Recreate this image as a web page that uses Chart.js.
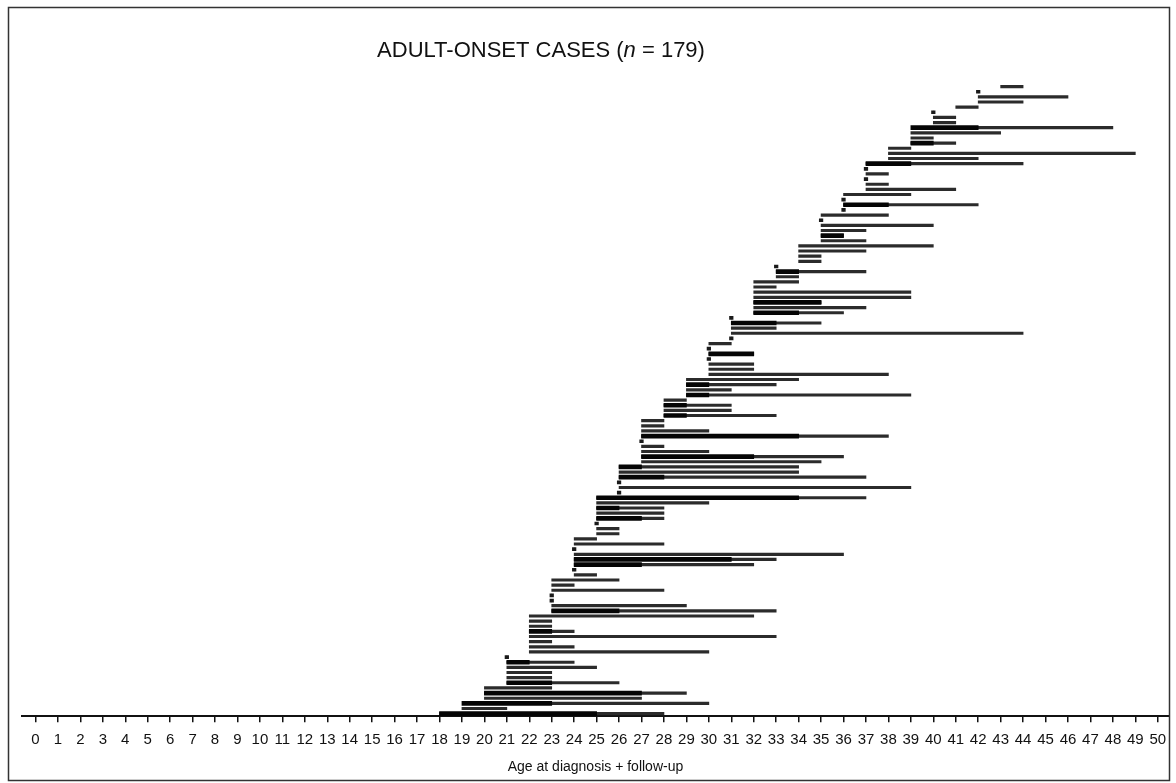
<!DOCTYPE html>
<html>
<head>
<meta charset="utf-8">
<title>Adult-onset cases</title>
<script src="https://cdn.jsdelivr.net/npm/chart.js@4.4.1/dist/chart.umd.min.js"></script>
<style>
  html, body { margin: 0; padding: 0; background: #fff; }
  #wrap { width: 1176px; height: 783px; }
</style>
</head>
<body>
<div id="wrap"><canvas id="followUpChart" width="1176" height="783"></canvas></div>
<script>
// one line per row, bottom row first: age at diagnosis and age at last follow-up
var onsetAge = [
  18,19,20,20,20,20,21,21,21,21,
  21,21,22,22,22,22,22,22,22,22,
  23,23,23,23,23,23,23,24,24,24,
  24,24,24,24,24,25,25,25,25,25,
  25,25,25,26,26,26,26,26,26,27,
  27,27,27,27,27,27,27,27,28,28,
  28,28,29,29,29,29,30,30,30,30,
  30,30,30,31,31,31,31,31,32,32,
  32,32,32,32,32,33,33,33,34,34,
  34,34,35,35,35,35,35,35,36,36,
  36,36,37,37,37,37,37,37,38,38,
  38,39,39,39,40,40,40,40,41,42,
  42,42,43
];
var lastAge = [
  28,21,30,27,29,23,26,23,23,25,
  24,21,30,24,23,33,24,23,23,32,
  33,29,23,23,28,24,26,25,24,32,
  33,36,24,28,25,26,26,25,28,28,
  28,30,37,26,39,26,37,34,34,35,
  36,30,28,27,38,30,28,28,33,31,
  31,29,39,31,33,34,38,32,32,30,
  32,30,31,31,44,33,35,31,36,37,
  35,39,39,33,34,34,37,33,35,35,
  37,40,37,36,37,40,35,38,36,42,
  36,39,41,38,37,38,37,44,42,49,
  39,41,40,43,48,41,41,40,42,44,
  46,42,44
];

// rows where a second case overlaps (heavy black segment)
var pairRow   = [1,3,5,7,11,17,21,30,31,39, 41,43,47,49,51,55,59,61,63,65, 71,77,79,81,87,94,100,108,112,115];
var pairStart = [18,19,20,21,21,22,23,24,24,25, 25,25,26,26,27,27,28,28,29,29, 30,31,32,32,33,35,36,37,39,39];
var pairEnd   = [25,23,27,23,22,23,26,27,31,27, 26,34,28,27,32,34,29,29,30,30, 32,33,34,35,34,36,38,39,40,42];

var tickAges = [0,1,2,3,4,5,6,7,8,9,10,11,12,13,14,15,16,17,18,19,20,21,22,23,24,25,
  26,27,28,29,30,31,32,33,34,35,36,37,38,39,40,41,42,43,44,45,46,47,48,49,50];

// build the floating bars
var rowLabels = onsetAge.map(function (a, i) { return String(i + 1); });
var followBars = onsetAge.map(function (a, i) { return [a, lastAge[i]]; });
var pairBars = onsetAge.map(function () { return null; });
for (var k = 0; k < pairRow.length; k++) {
  pairBars[pairRow[k] - 1] = [pairStart[k], pairEnd[k]];
}
// cases with no follow-up only show a dot
var dotBars = onsetAge.map(function (a, i) {
  return a === lastAge[i] ? [a - 0.08, a + 0.08] : null;
});

var frameAndTitle = {
  id: 'frameAndTitle',
  afterDraw: function (chart) {
    var c = chart.ctx;
    c.save();
    c.strokeStyle = '#333';
    c.lineWidth = 1.5;
    c.strokeRect(8.5, 7.5, 1161, 773);

    var parts = [
      ['ADULT-ONSET CASES (', 'normal'],
      ['n', 'italic'],
      [' = 179)', 'normal']
    ];
    var size = 22, total = 0;
    parts.forEach(function (p) {
      c.font = p[1] + ' ' + size + 'px "Liberation Sans", Arial, sans-serif';
      total += c.measureText(p[0]).width;
    });
    var x = 541 - total / 2;
    c.fillStyle = '#111';
    c.textBaseline = 'middle';
    parts.forEach(function (p) {
      c.font = p[1] + ' ' + size + 'px "Liberation Sans", Arial, sans-serif';
      c.fillText(p[0], x, 51);
      x += c.measureText(p[0]).width;
    });
    c.restore();
  }
};

var ctx = document.getElementById('followUpChart').getContext('2d');
var chart = new Chart(ctx, {
  type: 'bar',
  data: {
    labels: rowLabels,
    datasets: [
      { label: 'Follow-up', data: followBars, backgroundColor: '#2b2b2b', barThickness: 2.5, grouped: false, order: 3 },
      { label: 'Second case', data: pairBars, backgroundColor: '#050505', barThickness: 4, grouped: false, order: 2 },
      { label: 'No follow-up', data: dotBars, backgroundColor: '#1a1a1a', barThickness: 3, grouped: false, order: 1 }
    ]
  },
  options: {
    indexAxis: 'y',
    responsive: false,
    animation: false,
    layout: { padding: { left: 22, right: 7, top: 84, bottom: 7 } },
    plugins: {
      legend: { display: false },
      tooltip: { enabled: false },
      title: { display: false }
    },
    scales: {
      x: {
        type: 'linear',
        min: -0.6,
        max: 50.5,
        afterBuildTicks: function (scale) {
          scale.ticks = tickAges.map(function (v) { return { value: v }; });
        },
        grid: { drawOnChartArea: false, drawTicks: true, tickLength: 6, color: '#111', lineWidth: 1.5 },
        border: { display: true, color: '#111', width: 2 },
        ticks: {
          autoSkip: false, maxRotation: 0, padding: 9, color: '#111',
          font: { family: '"Liberation Sans", Arial, sans-serif', size: 15 }
        },
        title: {
          display: true,
          text: 'Age at diagnosis + follow-up',
          color: '#111',
          padding: { top: 1, bottom: 0 },
          font: { family: '"Liberation Sans", Arial, sans-serif', size: 14 }
        }
      },
      y: { display: false, reverse: true }
    }
  },
  plugins: [frameAndTitle]
});
</script>
</body>
</html>
